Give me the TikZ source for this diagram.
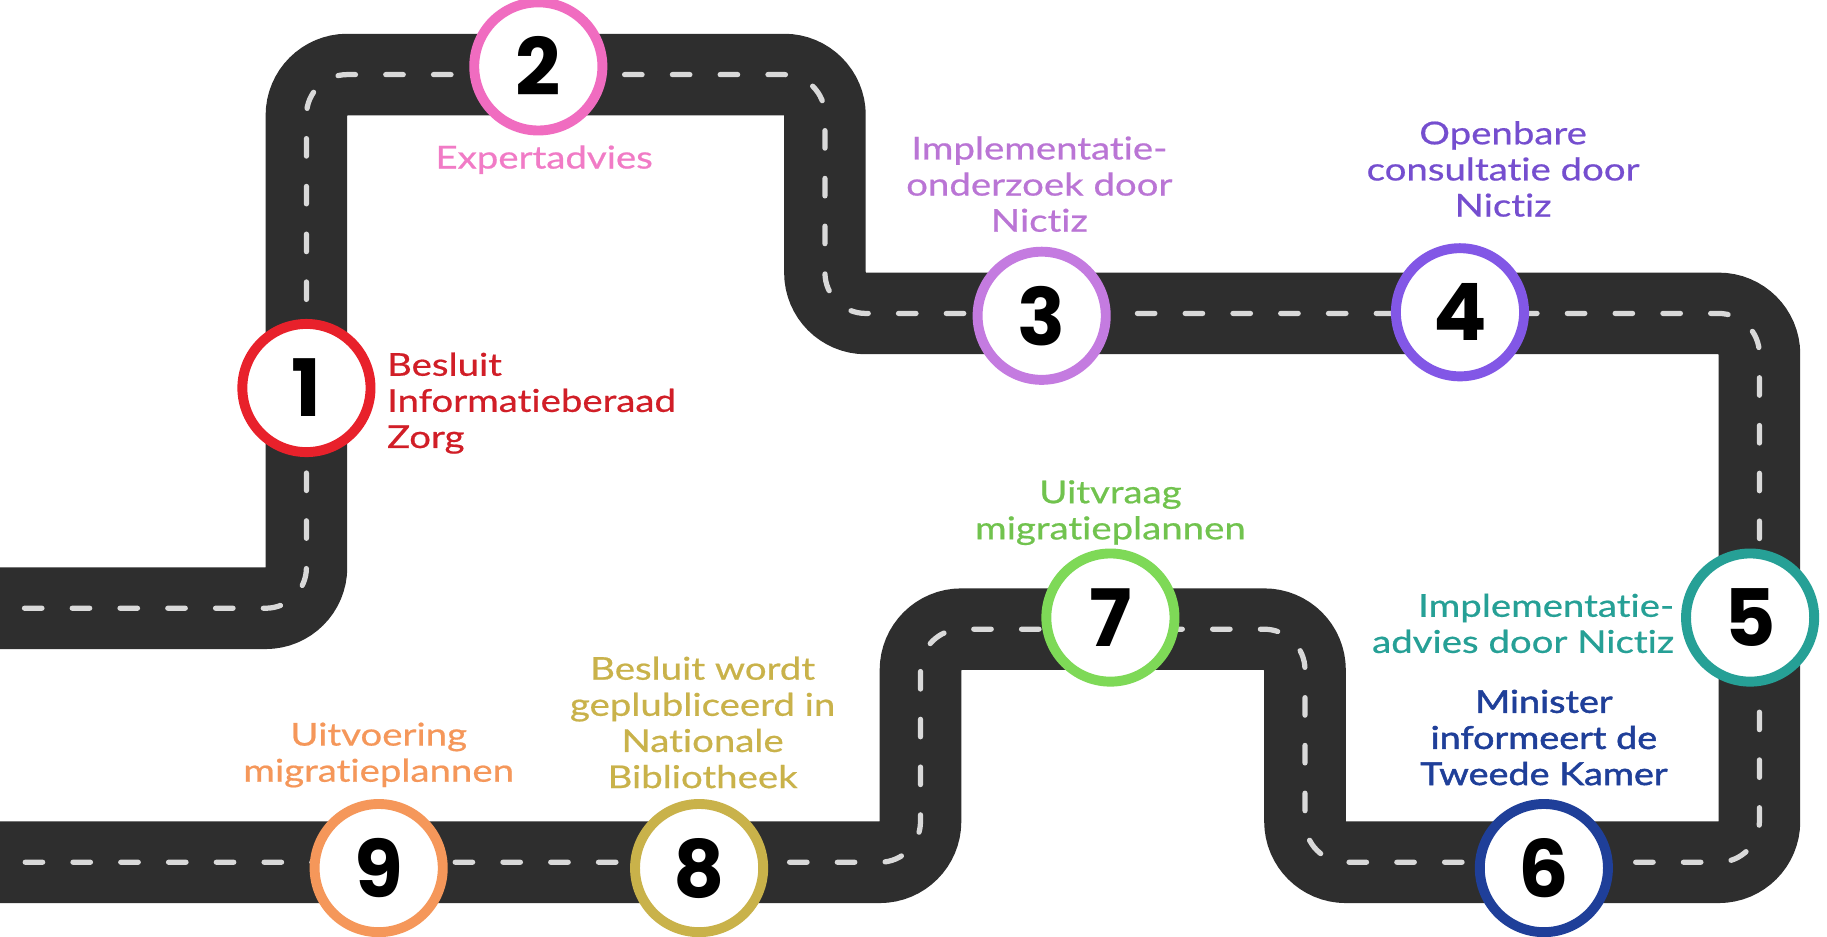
\documentclass[tikz,border=0pt]{standalone}
\usepackage{fontspec}
\setmainfont{Lato}[Ligatures=NoCommon,FakeStretch=1.22,FakeBold=0.6]
\newfontfamily\heavylbl{Lato}[Ligatures=NoCommon,FakeStretch=1.2,FakeBold=1.6]
\newfontfamily\numfont{Poppins}
\usetikzlibrary{calc}
\definecolor{asphalt}{HTML}{2E2E2E}
\definecolor{stripe}{HTML}{D9D9D9}
\definecolor{cI}{HTML}{E8212B}
\definecolor{cII}{HTML}{F06CC0}
\definecolor{cIII}{HTML}{C47BE0}
\definecolor{cIV}{HTML}{8257E6}
\definecolor{cV}{HTML}{26A096}
\definecolor{cVI}{HTML}{1F3F99}
\definecolor{cVII}{HTML}{7ED957}
\definecolor{cVIII}{HTML}{C9B24A}
\definecolor{cIX}{HTML}{F5975A}

\begin{document}
\begin{tikzpicture}[x=1pt,y=-1pt,
  stop/.style={circle,draw=#1,line width=8.5pt,fill=white,minimum size=110pt,inner sep=0pt,
    font=\numfont\bfseries\fontsize{68}{68}\selectfont},
  lbl/.style={text=#1,align=center,inner sep=0pt,font=\fontsize{27}{31}\selectfont}]
\useasboundingbox (0,0) rectangle (1568,804);
\clip (0,0) rectangle (1568,804);
\fill[white] (0,0) rectangle (1568,804);
% the road
\coordinate (start) at (-20,522);
\coordinate (finish) at (-20,740);
\draw[asphalt,line width=70pt,rounded corners=35pt] (start) -| (263,64) -| (708,269) -| (1510,740) -| (1120,540) -| (790,740) -- (finish);
\draw[stripe,line width=4.5pt,line cap=round,dash pattern=on 15pt off 26pt,rounded corners=35pt] (start) -| (263,64) -| (708,269) -| (1510,740) -| (1120,540) -| (790,740) -- (finish);
% the stops
\node[stop=cI] (s1) at (263,333) {1};
\node[stop=cII] (s2) at (462,57) {2};
\node[stop=cIII] (s3) at (894,271) {3};
\node[stop=cIV] (s4) at (1253,268) {4};
\node[stop=cV] (s5) at (1502,530) {5};
\node[stop=cVI] (s6) at (1325,745) {6};
\node[stop=cVII] (s7) at (953,530) {7};
\node[stop=cVIII] (s8) at (600,745) {8};
\node[stop=cIX] (s9) at (325,745) {9};
% labels
\node[lbl=cI!90!black,align=left,anchor=west] (t1) at (332,346) {Besluit\\Informatieberaad\\Zorg};
\node[lbl=cII!90!white] (t2) at (467,137) {Expertadvies};
\node[lbl=cIII!95!black] (t3) at (892,158) {Implementatie-\\onderzoek door\\Nictiz};
\node[lbl=cIV!90!black] (t4) at (1290,145) {Openbare\\consultatie door\\Nictiz};
\node[lbl=cV,align=right,anchor=east] (t5) at (1437,535) {Implementatie-\\advies door Nictiz};
\node[lbl=cVI,font=\heavylbl\fontsize{27}{31}\selectfont] (t6) at (1325,633) {Minister\\informeert de\\Tweede Kamer};
\node[lbl=cVII!90!black] (t7) at (953,440) {Uitvraag\\migratieplannen};
\node[lbl=cVIII] (t8) at (603,620) {Besluit wordt\\geplubliceerd in\\Nationale\\Bibliotheek};
\node[lbl=cIX] (t9) at (325,648) {Uitvoering\\migratieplannen};
\end{tikzpicture}
\end{document}
